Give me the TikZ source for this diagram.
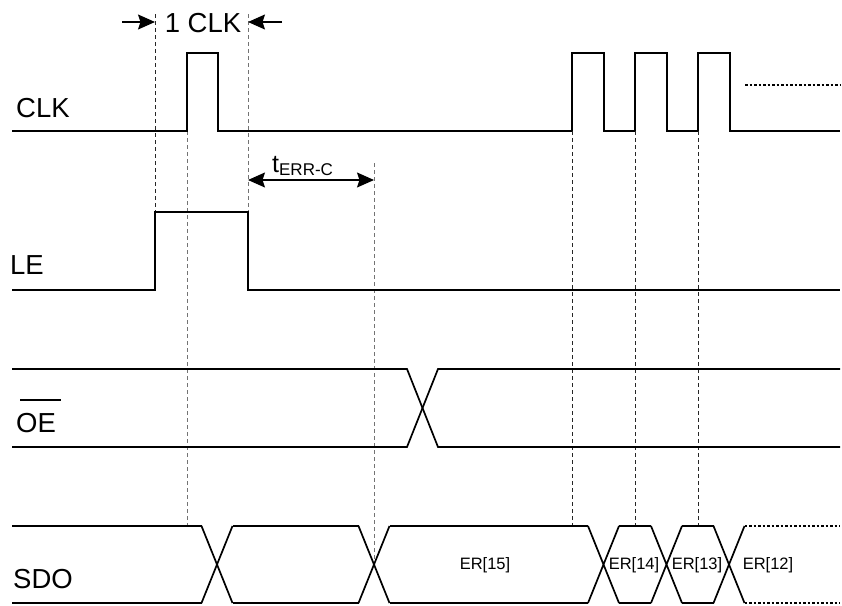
\documentclass[tikz,border=0pt]{standalone}
\usepackage{fontspec}
\setmainfont{Liberation Sans}
\usetikzlibrary{arrows.meta}

\tikzset{
  wave/.style={line width=1.7pt, line join=miter},
  more/.style={line width=1.7pt, dash pattern=on 2.5pt off 2pt},
  guide/.style={line width=1pt, dash pattern=on 4pt off 3pt, draw=#1},
  guide/.default=black!85,
  siglabel/.style={anchor=base west, inner sep=0pt, font=\fontsize{27.5}{32}\selectfont},
  bitlabel/.style={inner sep=0pt, font=\fontsize{16.5}{20}\selectfont},
  dimarrow/.style={line width=1.4pt, -{Stealth[length=17pt,width=15pt,inset=2.5pt]}},
  dimboth/.style={line width=1.4pt, {Stealth[length=17pt,width=15pt,inset=2.5pt]}-{Stealth[length=17pt,width=15pt,inset=2.5pt]}},
}

\begin{document}
\begin{tikzpicture}[x=1pt,y=-1pt]
  \useasboundingbox (0,0) rectangle (842,605);

  % guide lines
  \coordinate (g1top) at (155,14);   \coordinate (g1bot) at (155,212);
  \coordinate (g2top) at (187,131);  \coordinate (g2bot) at (187,526);
  \coordinate (g3top) at (248,14);   \coordinate (g3bot) at (248,212);
  \coordinate (g4top) at (374,163);  \coordinate (g4bot) at (374,564);
  \draw[guide] (g1top) -- (g1bot);
  \draw[guide=black!55] (g2top) -- (g2bot);
  \draw[guide=black!55] (g3top) -- (g3bot);
  \draw[guide=black!55] (g4top) -- (g4bot);
  \foreach \x in {572,635,698}
    \draw[guide] (\x,131) -- (\x,526);

  % signal names
  \node[siglabel] (clk) at (16,117) {CLK};
  \node[siglabel] (le) at (10,274) {LE};
  \node[siglabel] (oe) at (16,432) {OE};
  \draw[line width=1.7pt] (20,400) -- (61,400);
  \node[siglabel] (sdo) at (13,588) {SDO};

  % CLK
  \draw[wave] (12,131) -- (187,131) -- (187,53) -- (218,53) -- (218,131) -- (572,131);
  \foreach \x in {572,635,698}
    \draw[wave] (\x,131) -- (\x,53) -- (\x+32,53) -- (\x+32,131) -- (\x+63,131);
  \draw[wave] (730,131) -- (840,131);
  \draw[more] (745,85) -- (840,85);

  % LE
  \draw[wave] (12,290) -- (155,290) -- (155,212) -- (248,212) -- (248,290) -- (840,290);

  % OE
  \draw[wave] (12,369) -- (407,369) -- (438,447) -- (840,447);
  \draw[wave] (12,447) -- (407,447) -- (438,369) -- (840,369);

  % SDO
  \foreach \c in {217,374,603.5,666.5,729}
    \draw[wave] (\c-15.5,526) -- (\c+15.5,603) (\c-15.5,603) -- (\c+15.5,526);
  \foreach \a/\b in {12/201.5,232.5/358.5,389.5/588,619/651,682/713.5}
    \draw[wave] (\a,526) -- (\b,526) (\a,603) -- (\b,603);
  \draw[more] (744.5,526) -- (840,526) (744.5,603) -- (840,603);
  \node[bitlabel] (er15) at (485,565) {ER[15]};
  \node[bitlabel] (er14) at (634,565) {ER[14]};
  \node[bitlabel] (er13) at (697,565) {ER[13]};
  \node[bitlabel] (er12) at (768,565) {ER[12]};

  % timings
  \node[anchor=base, inner sep=0pt, font=\fontsize{27.5}{32}\selectfont] (oneclk) at (203,32) {1 CLK};
  \coordinate (a1) at (122,22); \coordinate (a2) at (155,22);
  \coordinate (a3) at (282,22); \coordinate (a4) at (248,22);
  \draw[dimarrow] (a1) -- (a2);
  \draw[dimarrow] (a3) -- (a4);
  \node[anchor=base west, inner sep=0pt] (terr) at (272,172)
    {\fontsize{25}{30}\selectfont t\raisebox{-3pt}{\fontsize{17}{20}\selectfont ERR-C}};
  \coordinate (b1) at (248,180); \coordinate (b2) at (374,180);
  \draw[dimboth] (b1) -- (b2);
\end{tikzpicture}
\end{document}
